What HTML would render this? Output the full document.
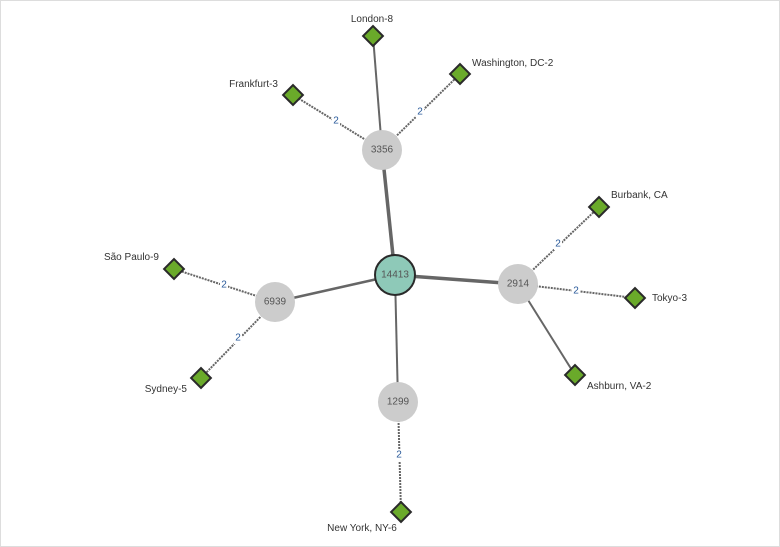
<!DOCTYPE html>
<html><head><meta charset="utf-8"><style>
html,body{margin:0;padding:0;background:#fff}
svg{display:block}
text{font-family:"Liberation Sans",sans-serif;font-size:10px;fill:#333}
.n{fill:#555;text-anchor:middle;dominant-baseline:central}
.e{fill:#2a5a9a;text-anchor:middle;dominant-baseline:central}
.d{fill:#6aaa2a;stroke:#2a2a2a;stroke-width:2}
</style></head><body>
<svg width="780" height="547" viewBox="0 0 780 547">
<rect x="0.5" y="0.5" width="779" height="546" fill="#fff" stroke="#ddd"/>
<g stroke="#666" fill="none">
<line x1="395" y1="275" x2="382" y2="150" stroke-width="3.5"/>
<line x1="395" y1="275" x2="518" y2="284" stroke-width="3.5"/>
<line x1="395" y1="275" x2="275" y2="302" stroke-width="2.5"/>
<line x1="395" y1="275" x2="398" y2="402" stroke-width="2"/>
<line x1="382" y1="150" x2="373" y2="36" stroke-width="2"/>
<line x1="518" y1="284" x2="575" y2="375" stroke-width="2"/>
<g stroke-dasharray="2,1" stroke-width="2">
<line x1="382" y1="150" x2="460" y2="74"/>
<line x1="382" y1="150" x2="293" y2="95"/>
<line x1="518" y1="284" x2="599" y2="207"/>
<line x1="518" y1="284" x2="635" y2="298"/>
<line x1="275" y1="302" x2="174" y2="269"/>
<line x1="275" y1="302" x2="201" y2="378"/>
<line x1="398" y1="402" x2="401" y2="512"/>
</g>
</g>
<g fill="#fff">
<rect x="332" y="115" width="8" height="12"/><rect x="416" y="106" width="8" height="12"/>
<rect x="554" y="238" width="8" height="12"/><rect x="572" y="285" width="8" height="12"/>
<rect x="220" y="279" width="8" height="12"/><rect x="234" y="332" width="8" height="12"/>
<rect x="395" y="449" width="8" height="12"/>
</g>
<text class="e" x="336" y="121">2</text><text class="e" x="420" y="112">2</text>
<text class="e" x="558" y="244">2</text><text class="e" x="576" y="291">2</text>
<text class="e" x="224" y="285">2</text><text class="e" x="238" y="338">2</text>
<text class="e" x="399" y="455">2</text>
<circle cx="382" cy="150" r="20" fill="#ccc"/><text class="n" x="382" y="150">3356</text>
<circle cx="518" cy="284" r="20" fill="#ccc"/><text class="n" x="518" y="284">2914</text>
<circle cx="275" cy="302" r="20" fill="#ccc"/><text class="n" x="275" y="302">6939</text>
<circle cx="398" cy="402" r="20" fill="#ccc"/><text class="n" x="398" y="402">1299</text>
<circle cx="395" cy="275" r="20" fill="#8ec9b8" stroke="#2a2a2a" stroke-width="2"/><text class="n" x="395" y="275">14413</text>
<g>
<rect class="d" x="-7" y="-7" width="14" height="14" transform="translate(373,36) rotate(45)"/>
<rect class="d" x="-7" y="-7" width="14" height="14" transform="translate(460,74) rotate(45)"/>
<rect class="d" x="-7" y="-7" width="14" height="14" transform="translate(293,95) rotate(45)"/>
<rect class="d" x="-7" y="-7" width="14" height="14" transform="translate(599,207) rotate(45)"/>
<rect class="d" x="-7" y="-7" width="14" height="14" transform="translate(635,298) rotate(45)"/>
<rect class="d" x="-7" y="-7" width="14" height="14" transform="translate(575,375) rotate(45)"/>
<rect class="d" x="-7" y="-7" width="14" height="14" transform="translate(174,269) rotate(45)"/>
<rect class="d" x="-7" y="-7" width="14" height="14" transform="translate(201,378) rotate(45)"/>
<rect class="d" x="-7" y="-7" width="14" height="14" transform="translate(401,512) rotate(45)"/>
</g>
<text x="372" y="22" text-anchor="middle">London-8</text>
<text x="472" y="66">Washington, DC-2</text>
<text x="278" y="87" text-anchor="end">Frankfurt-3</text>
<text x="611" y="198">Burbank, CA</text>
<text x="652" y="301">Tokyo-3</text>
<text x="587" y="389">Ashburn, VA-2</text>
<text x="159" y="260" text-anchor="end">São Paulo-9</text>
<text x="187" y="392" text-anchor="end">Sydney-5</text>
<text x="362" y="531" text-anchor="middle">New York, NY-6</text>
</svg>
</body></html>
